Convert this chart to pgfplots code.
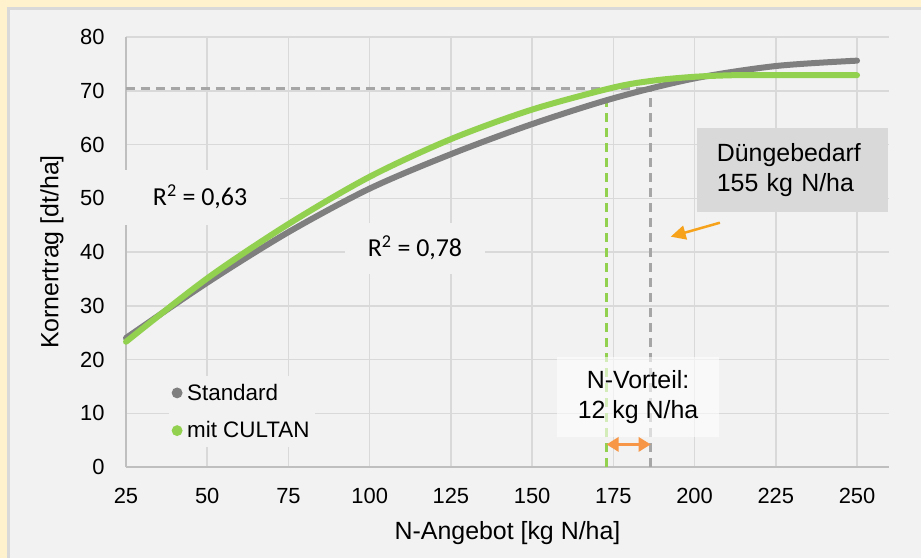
\documentclass[border=0pt]{standalone}
\usepackage{fontspec}
\setmainfont{Liberation Sans}
\newfontfamily\calibri{Carlito}
\usepackage{pgfplots}
\pgfplotsset{compat=1.18}
\usetikzlibrary{arrows.meta}
\definecolor{bgyel}{HTML}{FFF2CC}
\definecolor{panel}{HTML}{F2F2F2}
\definecolor{pborder}{HTML}{D9D9D9}
\definecolor{gridc}{HTML}{D9D9D9}
\definecolor{axisc}{HTML}{BFBFBF}
\definecolor{stdgray}{HTML}{7F7F7F}
\definecolor{cgreen}{HTML}{92D050}
\definecolor{dashgray}{HTML}{A6A6A6}
\definecolor{orangeA}{HTML}{F79646}
\definecolor{orangeB}{HTML}{F7A21B}
\definecolor{boxgray}{HTML}{D9D9D9}
\begin{document}
\begin{tikzpicture}
\useasboundingbox (-126bp,-91bp) rectangle (795bp,467bp);
\fill[bgyel] (-126bp,-91bp) rectangle (795bp,467bp);
\begin{scope}
\clip (-126bp,-91bp) rectangle (795bp,467bp);
\filldraw[fill=panel, draw=pborder, line width=3.5bp] (-117.25bp,458.5bp) rectangle (805bp,-100bp);
\end{scope}
\begin{axis}[
  at={(0,0)}, anchor=south west,
  scale only axis, width=763bp, height=430bp,
  xmin=25, xmax=259.84, ymin=0, ymax=80,
  xtick={25,50,...,250}, ytick={0,10,...,80},
  axis x line*=bottom, axis y line*=left,
  axis line style={-, draw=axisc, line width=2bp},
  grid=major, major grid style={draw=gridc, line width=1.5bp},
  major tick length=0pt, tick style={draw=none},
  clip=false,
  /pgf/number format/assume math mode=true,
  ticklabel style={font=\fontsize{22}{26}\selectfont},
  xticklabel style={yshift=-18bp},
  yticklabel style={xshift=-18bp},
  xlabel={N-Angebot [kg N/ha]},
  ylabel={Kornertrag [dt/ha]},
  every axis x label/.style={at={(rel axis cs:0.5,0)}, anchor=center, yshift=-66bp, font=\fontsize{25}{30}\selectfont},
  every axis y label/.style={at={(rel axis cs:0,0.5)}, anchor=center, xshift=-74bp, rotate=90, font=\fontsize{25}{30}\selectfont},
  legend style={draw=none, fill=panel, at={(rel axis cs:0.056,0.212)}, anchor=north west,
    font=\fontsize{22.5}{27}\selectfont, row sep=16bp, inner ysep=6bp},
  legend cell align=left,
  legend image code/.code={\path[draw=none,fill=none] (-2bp,-2bp) rectangle (8bp,2bp); \fill (0bp,0bp) circle (2.2bp);},
]
% text boxes hiding grid
\node[fill=panel, minimum width=159bp, minimum height=55bp, font=\calibri\fontsize{26}{31}\selectfont] at (axis cs:47.8,50.2) {R\textsuperscript{2} = 0,63};
\node[fill=panel, minimum width=140bp, minimum height=51bp, font=\calibri\fontsize{26}{31}\selectfont] at (axis cs:113.95,40.74) {R\textsuperscript{2} = 0,78};
% dashed guide lines
\addplot[dashgray, line width=2.5bp, dash pattern=on 9bp off 6bp, forget plot] coordinates {(25,70.45) (186.5,70.45)};
\addplot[dashgray, line width=2.5bp, dash pattern=on 9bp off 6bp, forget plot] coordinates {(186.5,0) (186.5,70.45)};
\addplot[cgreen, line width=2.5bp, dash pattern=on 9bp off 6bp, forget plot] coordinates {(172.9,0) (172.9,70.45)};
% curves
\addplot[color=stdgray, line width=6bp, line cap=round, smooth] coordinates {
(25,24.0) (50,34.3) (75,43.7) (100,51.8) (125,58.2) (150,63.8) (175,68.6) (200,72.3) (225,74.6) (250,75.6)};
\addlegendentry{Standard}
\addplot[color=cgreen, line width=6bp, line cap=round, smooth] coordinates {
(25,23.3) (50,35.1) (75,45.2) (100,54.0) (125,61.0) (150,66.5) (175,70.6) (187.5,71.9) (200,72.6) (212.5,72.9) (225,72.9) (250,72.9)};
\addlegendentry{mit CULTAN}
% annotations
\node[fill=boxgray, minimum width=191bp, minimum height=84bp, text width=151bp, inner xsep=20bp, align=left, font=\fontsize{25}{30}\selectfont] at (axis cs:230.1,55.26) {Düngebedarf\\155 kg N/ha};
\addplot[orangeB, line width=2.5bp, -{Triangle[length=15bp,width=14bp]}, forget plot] coordinates {(207.8,45.45) (192.65,42.85)};
\node[fill=white, fill opacity=0.6, text opacity=1, minimum width=162bp, minimum height=80bp, align=center, font=\fontsize{25}{30}\selectfont] at (axis cs:182.6,13.02) {N-Vorteil:\\12 kg N/ha};
\addplot[orangeA, line width=3bp, {Triangle[length=12bp,width=14bp]}-{Triangle[length=12bp,width=14bp]}, forget plot] coordinates {(172.9,4.2) (186.5,4.2)};
\end{axis}
\end{tikzpicture}
\end{document}
